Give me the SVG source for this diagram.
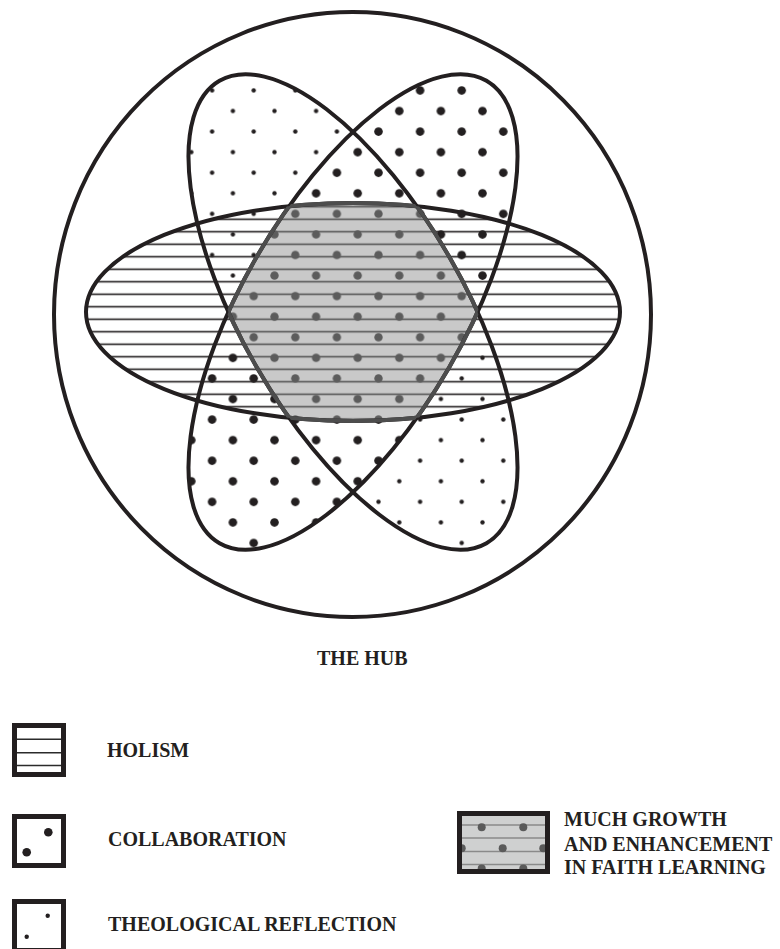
<svg xmlns="http://www.w3.org/2000/svg" width="780" height="949" viewBox="0 0 780 949">
<style>
.ol{fill:none;stroke:#231f20;stroke-width:4}
.gb{fill:none;stroke:#4d4d4d;stroke-width:4}
.lbl{font-weight:bold;font-size:20px;fill:#231f20}
.box{fill:#fff;stroke:#231f20;stroke-width:5}
.ln{stroke:#2b2b2b;stroke-width:1.5}
</style>
<defs>
<ellipse id="eA" cx="353" cy="312" rx="267" ry="109"/>
<ellipse id="eB" cx="353" cy="312" rx="267" ry="111" transform="rotate(60 353 312)"/>
<ellipse id="eC" cx="353" cy="312" rx="267" ry="111" transform="rotate(-60 353 312)"/>
<clipPath id="cA"><use href="#eA"/></clipPath>
<clipPath id="cB"><use href="#eB"/></clipPath>
<clipPath id="cC"><use href="#eC"/></clipPath>
<pattern id="pSmall" patternUnits="userSpaceOnUse" x="347.3" y="306.4" width="41.6" height="41.14">
<circle cx="10.4" cy="10.3" r="2.2" fill="#231f20"/><circle cx="31.2" cy="30.87" r="2.2" fill="#231f20"/>
</pattern>
<pattern id="pBig" patternUnits="userSpaceOnUse" x="347.3" y="306.4" width="41.6" height="41.14">
<rect width="41.6" height="41.14" fill="#fff"/>
<circle cx="10.4" cy="10.3" r="4.3" fill="#231f20"/><circle cx="31.2" cy="30.87" r="4.3" fill="#231f20"/>
</pattern>
<pattern id="pGrayDots" patternUnits="userSpaceOnUse" x="347.3" y="306.4" width="41.6" height="41.14">
<circle cx="10.4" cy="10.3" r="4.2" fill="#5c5c5c"/><circle cx="31.2" cy="30.87" r="4.2" fill="#5c5c5c"/>
</pattern>
<pattern id="pLines" patternUnits="userSpaceOnUse" x="0" y="200.5" width="780" height="12.5">
<rect x="0" y="5.45" width="780" height="1.6" fill="#231f20"/>
</pattern>
<pattern id="pGrayLines" patternUnits="userSpaceOnUse" x="0" y="200.5" width="780" height="12.5">
<rect x="0" y="5.45" width="780" height="1.6" fill="#555"/>
</pattern>
</defs>

<g id="hub">
<ellipse cx="352.5" cy="314.5" rx="298.5" ry="302.5" fill="#fff" stroke="#231f20" stroke-width="4"/>
</g>

<g id="theological-reflection-fill" clip-path="url(#cB)"><rect x="0" y="0" width="780" height="640" fill="url(#pSmall)"/></g>
<g id="collaboration-fill" clip-path="url(#cC)"><rect x="0" y="0" width="780" height="640" fill="url(#pBig)"/></g>
<g id="holism-fill"><use href="#eA" fill="url(#pLines)"/></g>

<g id="growth-region">
<g clip-path="url(#cA)"><g clip-path="url(#cB)"><g clip-path="url(#cC)">
<rect x="0" y="0" width="780" height="640" fill="#c9c9c9"/>
<rect x="0" y="0" width="780" height="640" fill="url(#pGrayLines)"/>
<rect x="0" y="0" width="780" height="640" fill="url(#pGrayDots)"/>
</g></g></g>
</g>

<g id="outlines">
<use id="holism" href="#eA" class="ol"/>
<use id="theological-reflection" href="#eB" class="ol"/>
<use id="collaboration" href="#eC" class="ol"/>
</g>

<g id="growth-outline">
<g clip-path="url(#cB)"><g clip-path="url(#cC)"><use href="#eA" class="gb"/></g></g>
<g clip-path="url(#cA)"><g clip-path="url(#cC)"><use href="#eB" class="gb"/></g></g>
<g clip-path="url(#cA)"><g clip-path="url(#cB)"><use href="#eC" class="gb"/></g></g>
</g>

<g id="connectors"></g>

<g font-family="'Liberation Serif', 'DejaVu Serif', serif">
<g id="hub-label"><text class="lbl" x="317" y="664.5">THE HUB</text></g>

<g id="legend-holism">
<rect class="box" x="14.5" y="725.5" width="49" height="49"/>
<line class="ln" x1="17" y1="739.3" x2="61" y2="739.3"/>
<line class="ln" x1="17" y1="752.7" x2="61" y2="752.7"/>
<line class="ln" x1="17" y1="765.5" x2="61" y2="765.5"/>
<text class="lbl" x="107" y="757.3">HOLISM</text>
</g>

<g id="legend-collaboration">
<rect class="box" x="14.5" y="816.5" width="49" height="49"/>
<circle cx="48.3" cy="832.3" r="4.3" fill="#231f20"/>
<circle cx="26.7" cy="852.3" r="4.3" fill="#231f20"/>
<text class="lbl" x="108" y="845.7">COLLABORATION</text>
</g>

<g id="legend-theological">
<rect class="box" x="14.5" y="901.5" width="49" height="49"/>
<circle cx="47.7" cy="915.7" r="2.2" fill="#231f20"/>
<circle cx="26.7" cy="936.7" r="2.2" fill="#231f20"/>
<text class="lbl" x="108" y="930.7">THEOLOGICAL REFLECTION</text>
</g>

<g id="legend-growth">
<rect x="459.5" y="813.5" width="88" height="58" fill="#cfd0d0"/>
<g stroke="#8a8a8a" stroke-width="1.3">
<line x1="460" y1="825" x2="547" y2="825"/>
<line x1="460" y1="838" x2="547" y2="838"/>
<line x1="460" y1="851.5" x2="547" y2="851.5"/>
<line x1="460" y1="864.5" x2="547" y2="864.5"/>
</g>
<g fill="#5a5a5a">
<circle cx="481.7" cy="827.3" r="4"/><circle cx="523.3" cy="827.3" r="4"/>
<circle cx="461.7" cy="848.3" r="4"/><circle cx="502.7" cy="848.3" r="4"/><circle cx="543.3" cy="848.3" r="4"/>
<circle cx="481.7" cy="868.5" r="4"/><circle cx="523.3" cy="868.5" r="4"/>
</g>
<rect x="459.5" y="813.5" width="88" height="58" fill="none" stroke="#231f20" stroke-width="5"/>
<text class="lbl" x="564" y="825.7">MUCH GROWTH</text>
<text class="lbl" x="564" y="850.7">AND ENHANCEMENT</text>
<text class="lbl" x="564" y="874.3">IN FAITH LEARNING</text>
</g>
</g>
</svg>
